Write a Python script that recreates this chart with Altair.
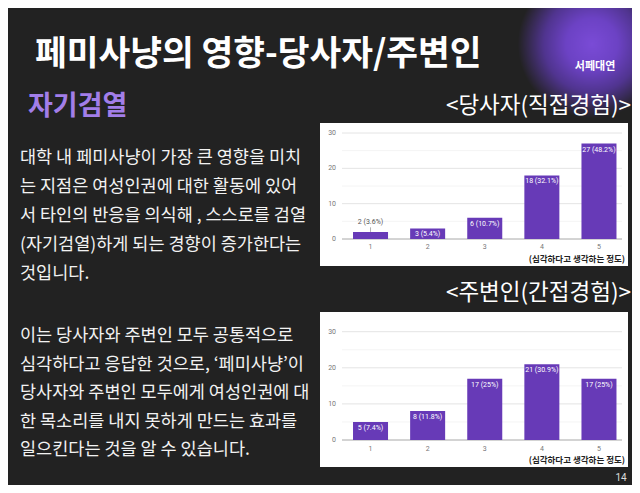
import altair as alt
import pandas as pd

# ---------------- data ----------------
categories = ["1", "2", "3", "4", "5"]
direct_counts = [2, 3, 6, 18, 27]
direct_pcts = ["3.6%", "5.4%", "10.7%", "32.1%", "48.2%"]
indirect_counts = [5, 8, 17, 21, 17]
indirect_pcts = ["7.4%", "11.8%", "25%", "30.9%", "25%"]
y_ticks = [0, 10, 20, 30]
minor_ticks = [5, 15, 25]

slide_title = "페미사냥의 영향-당사자/주변인"
section_title = "자기검열"
chart1_title = "<당사자(직접경험)>"
chart2_title = "<주변인(간접경험)>"
axis_title = "(심각하다고 생각하는 정도)"
logo_text = "서페대연"
page_no = "14"
para1 = [
    "대학 내 페미사냥이 가장 큰 영향을 미치",
    "는 지점은 여성인권에 대한 활동에 있어",
    "서 타인의 반응을 의식해 , 스스로를 검열",
    "(자기검열)하게 되는 경향이 증가한다는",
    "것입니다.",
]
para2 = [
    "이는 당사자와 주변인 모두 공통적으로",
    "심각하다고 응답한 것으로,  ‘페미사냥’이",
    "당사자와 주변인 모두에게 여성인권에 대",
    "한 목소리를 내지 못하게 만드는 효과를",
    "일으킨다는 것을 알 수 있습니다.",
]

KR = "Noto Sans CJK KR"
NUM = "Roboto"
BAR = "#673ab7"
BG = "#222222"

one = pd.DataFrame({"a": [0]})


def make_df(counts, pcts):
    return pd.DataFrame({
        "cat": categories,
        "count": counts,
        "label": [f"{c} ({p})" for c, p in zip(counts, pcts)],
        "inside": [c >= 3 for c in counts],
    })


df1 = make_df(direct_counts, direct_pcts)
df2 = make_df(indirect_counts, indirect_pcts)
ticks_df = pd.DataFrame({"v": y_ticks})
minor_df = pd.DataFrame({"v": minor_ticks})

XS = alt.Scale(type="band", domain=categories, range=[334, 619.5],
               paddingInner=0.387, paddingOuter=0.193)


def text_layer(txt, x, y, size, color="white", weight="normal", align="left",
               baseline="middle", font=KR, line_height=None):
    kw = dict(align=align, baseline=baseline, fontSize=size, font=font,
              fontWeight=weight, color=color)
    if line_height is not None:
        kw["lineBreak"] = "\n"
        kw["lineHeight"] = line_height
    return alt.Chart(one).mark_text(**kw).encode(
        x=alt.value(x), y=alt.value(y), text=alt.value(txt))


def bar_panel(df, box, y_range, xlab_y, title_y):
    x0, x1, y0, y1 = box
    YS = alt.Scale(domain=[0, 30], range=y_range, nice=False, zero=True)
    layers = []
    layers.append(alt.Chart(one).mark_rect(color="white").encode(
        x=alt.value(x0), x2=alt.value(x1), y=alt.value(y0), y2=alt.value(y1)))
    # grid lines
    layers.append(alt.Chart(minor_df).mark_rule(color="#f4f4f4", strokeWidth=1).encode(
        x=alt.value(334), x2=alt.value(614),
        y=alt.Y("v:Q", scale=YS, axis=None)))
    layers.append(alt.Chart(ticks_df).mark_rule(strokeWidth=1).encode(
        x=alt.value(334), x2=alt.value(614),
        y=alt.Y("v:Q", scale=YS, axis=None),
        color=alt.condition("datum.v == 0", alt.value("#a8a8a8"), alt.value("#e4e4e4"))))
    # y tick labels
    layers.append(alt.Chart(ticks_df).mark_text(
        align="right", baseline="middle", fontSize=7, font=NUM, color="#777777").encode(
        x=alt.value(328), y=alt.Y("v:Q", scale=YS, axis=None), text="v:Q"))
    # bars
    layers.append(alt.Chart(df).mark_bar(color=BAR).encode(
        x=alt.X("cat:N", scale=XS, axis=None),
        y=alt.Y("count:Q", scale=YS, axis=None)))
    # labels inside bars
    layers.append(alt.Chart(df).transform_filter("datum.inside").mark_text(
        baseline="middle", dy=6, fontSize=7, font=NUM, color="white").encode(
        x=alt.X("cat:N", scale=XS, axis=None),
        y=alt.Y("count:Q", scale=YS, axis=None), text="label:N"))
    # labels outside bars with leader line
    layers.append(alt.Chart(df).transform_filter("!datum.inside").transform_calculate(
        top="datum.count + 1.3").mark_rule(color="#9e9e9e", strokeWidth=0.8).encode(
        x=alt.X("cat:N", scale=XS, axis=None),
        y=alt.Y("count:Q", scale=YS, axis=None), y2="top:Q"))
    layers.append(alt.Chart(df).transform_filter("!datum.inside").mark_text(
        baseline="middle", dy=-10, fontSize=7, font=NUM, color="#555555").encode(
        x=alt.X("cat:N", scale=XS, axis=None),
        y=alt.Y("count:Q", scale=YS, axis=None), text="label:N"))
    # x tick labels
    layers.append(alt.Chart(df).mark_text(
        baseline="middle", fontSize=7, font=NUM, color="#777777").encode(
        x=alt.X("cat:N", scale=XS, axis=None), y=alt.value(xlab_y), text="cat:N"))
    layers.append(text_layer(axis_title, 617, title_y, 8.5, color="#222222",
                             weight="bold", align="right"))
    return layers


glow = alt.Chart(one).mark_circle(
    opacity=1,
    fill={"gradient": "radial",
          "stops": [{"offset": 0, "color": "#7a4bd6"},
                    {"offset": 0.35, "color": "#6c42c4"},
                    {"offset": 0.65, "color": "#50348f"},
                    {"offset": 1, "color": BG}]}).encode(
    x=alt.value(584), y=alt.value(36), size=alt.value(22000))

layers = [glow,
          text_layer(logo_text, 587, 59, 11, weight="bold", align="center"),
          text_layer(slide_title, 27, 47, 34.5, weight="bold"),
          text_layer(section_title, 20, 99, 27, color="#a27ee9", weight="bold"),
          text_layer(chart1_title, 623, 98, 22.5, align="right"),
          text_layer(chart2_title, 623, 285, 22.5, align="right"),
          text_layer("\n".join(para1), 12, 150, 17.5, color="#f2f2f2", line_height=29),
          text_layer("\n".join(para2), 12, 328, 17.5, color="#f2f2f2", line_height=28.5),
          text_layer(page_no, 613, 470, 10, color="#dddddd", align="center", font=NUM)]

layers += bar_panel(df1, (312, 620, 115, 258), [231, 125], 239, 251)
layers += bar_panel(df2, (312, 620, 304, 459), [432, 323.7], 441, 452)

chart = alt.layer(*layers).properties(
    width=624, height=477, background=BG, padding=0,
    autosize=alt.AutoSizeParams(type="none"),
).resolve_scale(y="independent").configure_view(stroke=None)

chart.save("out.html", embed_options={"renderer": "svg", "actions": False})
